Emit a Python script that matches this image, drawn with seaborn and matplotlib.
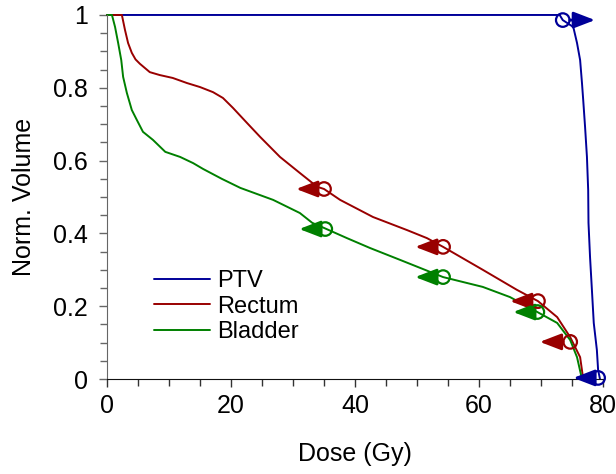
import numpy as np
import pandas as pd
import matplotlib
matplotlib.use("Agg")
import matplotlib.pyplot as plt
import seaborn as sns

# Cumulative dose-volume histograms
ptv_dose = [0, 73.0, 73.5, 75.2, 75.8, 76.3, 76.6, 76.8, 77.1, 77.4, 77.6, 77.65, 77.9, 78.2, 78.5, 79.0, 79.2, 79.5]
ptv_vol = [1.0, 1.0, 0.986, 0.967, 0.923, 0.876, 0.813, 0.766, 0.692, 0.61, 0.519, 0.429, 0.335, 0.245, 0.154, 0.08, 0.025, 0.0]

rectum_dose = [0, 2.4, 2.9, 3.4, 4.0, 4.6, 5.3, 6.9, 8.5, 10.6, 12.9, 15.0, 17.1, 18.7, 20.3, 22.6, 24.7,
               27.9, 31.1, 33.9, 35.0, 37.6, 42.9, 48.4, 51.6, 54.2, 60.6, 66.1, 69.5, 72.6, 74.7, 76.3, 76.8]
rectum_vol = [1.0, 1.0, 0.959, 0.923, 0.896, 0.878, 0.866, 0.843, 0.835, 0.827, 0.813, 0.802, 0.788, 0.772, 0.745, 0.703, 0.665,
              0.61, 0.566, 0.528, 0.522, 0.492, 0.445, 0.409, 0.387, 0.363, 0.30, 0.245, 0.214, 0.17, 0.115, 0.06, 0.0]

bladder_dose = [0, 0.8, 1.3, 1.8, 2.3, 2.6, 3.2, 4.0, 4.8, 5.8, 7.4, 9.4, 11.8, 13.9, 15.5, 18.5, 21.5,
                26.8, 31.1, 33.1, 35.0, 38.7, 42.4, 47.3, 54.2, 60.6, 65.0, 69.4, 72.6, 74.7, 75.8, 76.6]
bladder_vol = [1.0, 1.0, 0.967, 0.923, 0.876, 0.83, 0.786, 0.739, 0.712, 0.679, 0.657, 0.624, 0.61, 0.593, 0.577, 0.55, 0.525,
               0.492, 0.456, 0.429, 0.415, 0.387, 0.36, 0.327, 0.28, 0.253, 0.225, 0.184, 0.154, 0.107, 0.06, 0.0]

# Dose-volume constraints: point on curve and the dose the arrow points to
ptv_con_dose = [73.5, 79.2]
ptv_con_vol = [0.986, 0.003]
ptv_con_tip = [78.7, 75.2]

rectum_con_dose = [35.0, 54.2, 69.5, 74.7]
rectum_con_vol = [0.522, 0.363, 0.214, 0.102]
rectum_con_tip = [30.5, 49.7, 65.0, 69.8]

bladder_con_dose = [35.2, 54.2, 69.4]
bladder_con_vol = [0.412, 0.28, 0.184]
bladder_con_tip = [31.0, 49.7, 65.5]

structures = ["PTV", "Rectum", "Bladder"]
colors = {"PTV": "#000099", "Rectum": "#990000", "Bladder": "#008000"}

curves = pd.concat([
    pd.DataFrame({"Dose": ptv_dose, "Volume": ptv_vol, "Structure": "PTV"}),
    pd.DataFrame({"Dose": rectum_dose, "Volume": rectum_vol, "Structure": "Rectum"}),
    pd.DataFrame({"Dose": bladder_dose, "Volume": bladder_vol, "Structure": "Bladder"}),
], ignore_index=True)

constraints = pd.concat([
    pd.DataFrame({"Dose": ptv_con_dose, "Volume": ptv_con_vol, "Tip": ptv_con_tip, "Structure": "PTV"}),
    pd.DataFrame({"Dose": rectum_con_dose, "Volume": rectum_con_vol, "Tip": rectum_con_tip, "Structure": "Rectum"}),
    pd.DataFrame({"Dose": bladder_con_dose, "Volume": bladder_con_vol, "Tip": bladder_con_tip, "Structure": "Bladder"}),
], ignore_index=True)

sns.set_style("ticks")
plt.rcParams["font.family"] = ["Liberation Sans", "DejaVu Sans"]
plt.rcParams["text.color"] = "black"
plt.rcParams["axes.labelcolor"] = "black"
plt.rcParams["xtick.labelcolor"] = "black"
plt.rcParams["ytick.labelcolor"] = "black"

fig = plt.figure(figsize=(6.16, 4.74), dpi=100)
ax = fig.add_axes([0.1737, 0.2004, 0.8053, 0.768])

sns.lineplot(data=curves, x="Dose", y="Volume", hue="Structure", hue_order=structures,
             palette=colors, sort=False, estimator=None, linewidth=1.4, ax=ax)

# Arrows from constraint points
for _, r in constraints.iterrows():
    ann = ax.annotate("", xy=(r["Tip"], r["Volume"]), xytext=(r["Dose"], r["Volume"]),
                      arrowprops=dict(arrowstyle="-|>,head_length=1.3,head_width=0.5",
                                      mutation_scale=10, color=colors[r["Structure"]],
                                      lw=2.0, shrinkA=5, shrinkB=0),
                      annotation_clip=False, zorder=4)
    ann.set_clip_on(False)
    ann.arrow_patch.set_clip_on(False)

sns.scatterplot(data=constraints, x="Dose", y="Volume", hue="Structure", hue_order=structures,
                palette=colors, marker="o", s=95, linewidth=1.6,
                legend=False, ax=ax, zorder=5)
for coll in ax.collections:
    coll.set_facecolor("none")
    coll.set_edgecolor([colors[s] for s in constraints["Structure"]])
    coll.set_clip_on(False)

ax.set_xlim(0, 80)
ax.set_ylim(0, 1)
ax.set_xticks([0, 20, 40, 60, 80])
ax.set_xticks(np.arange(0, 81, 5), minor=True)
ax.set_yticks([0, 0.2, 0.4, 0.6, 0.8, 1.0])
ax.set_yticklabels(["0", "0.2", "0.4", "0.6", "0.8", "1"])
ax.set_yticks(np.arange(0, 1.001, 0.05), minor=True)
ax.tick_params(axis="both", which="major", labelsize=18, length=6, width=1, direction="out")
ax.tick_params(axis="both", which="minor", length=5, width=1, direction="out")
ax.tick_params(axis="y", which="major", pad=8)
ax.tick_params(axis="x", which="major", pad=5)
ax.tick_params(axis="y", which="both", color="#666666")
ax.tick_params(axis="x", which="both", color="#333333")

ax.set_xlabel("Dose (Gy)", fontsize=18, labelpad=17)
ax.set_ylabel("Norm. Volume", fontsize=18, labelpad=12)

sns.despine(ax=ax)
ax.spines["left"].set_color("#666666")
ax.spines["bottom"].set_color("#111111")
for ln in ax.lines:
    ln.set_clip_on(False)

leg = ax.legend(loc="upper left", bbox_to_anchor=(0.075, 0.325), frameon=False,
                fontsize=17, handlelength=2.4, handletextpad=0.3, labelspacing=0.15,
                borderaxespad=0)
for h in leg.get_lines():
    h.set_linewidth(1.4)

fig.savefig("out.png", dpi=100)
